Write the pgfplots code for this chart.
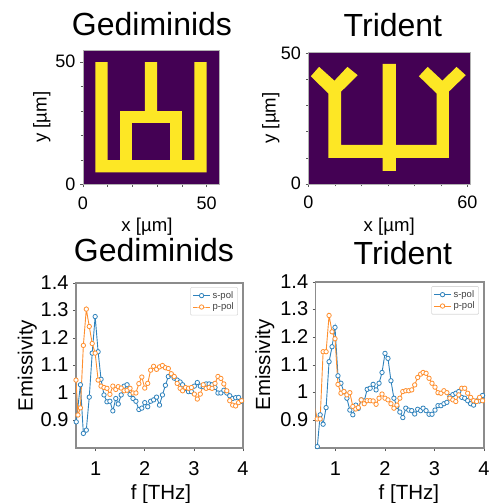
\documentclass[border=0pt]{standalone}
\usepackage{pgfplots}
\usepackage{fontspec}
\setmainfont{Liberation Sans}
\pgfplotsset{compat=1.18}
\definecolor{vp}{HTML}{440154}
\definecolor{vy}{HTML}{FDE725}
\definecolor{sb}{HTML}{2F82BC}
\definecolor{po}{HTML}{FF8F2E}
\pgfplotsset{
  common/.style={
    scale only axis,
    /pgf/number format/assume math mode=true,
    /pgf/number format/fixed,
    clip=true,
    tick align=outside,
    tick style={color=black!65,line width=0.7pt},
    major tick length=3pt,
    minor tick length=2.5pt,
    xtick pos=bottom, ytick pos=left,
    typeset ticklabels with strut=false,
  },
  img/.style={
    common,
    axis background/.style={fill=vp},
    axis line style={color=black!30,line width=0.8pt},
    tick label style={font=\fontsize{18}{18}\selectfont},
    xticklabel style={yshift=-5.5pt},
    yticklabel style={xshift=-1pt,yshift=-2pt},
    label style={font=\fontsize{18.6}{19}\selectfont},
    title style={font=\fontsize{32}{34}\selectfont,anchor=base},
  },
  em/.style={
    common,
    xmin=0.6,xmax=4,ymin=0.8,ymax=1.4,
    xtick={1,2,3,4},
    ytick={0.9,1,1.1,1.2,1.3,1.4},
    yticklabels={0.9,1,1.1,1.2,1.3,1.4},
    axis line style={color=black!45,line width=1.1pt},
    tick label style={font=\fontsize{20}{20}\selectfont},
    xticklabel style={yshift=-7pt},
    yticklabel style={xshift=-1pt,yshift=-2pt},
    label style={font=\fontsize{20.5}{21}\selectfont},
    title style={font=\fontsize{32}{34}\selectfont,anchor=base},
    legend cell align=left,
    legend style={font=\fontsize{9.5}{10}\selectfont,text=black!75,draw=black!15,rounded corners=1pt,
      anchor=north east,inner sep=2pt,row sep=-1pt,line width=0.6pt},
  },
  spol/.style={color=sb,line width=0.9pt,mark=*,mark size=2.2pt,mark options={fill=white,draw=sb,line width=0.8pt}},
  ppol/.style={color=po,line width=0.9pt,mark=*,mark size=2.2pt,mark options={fill=white,draw=po,line width=0.8pt}},
}
\begin{document}
\begin{tikzpicture}[x=1pt,y=1pt]
\useasboundingbox (0,0) rectangle (491,503);
% ---------- top left
\begin{axis}[img,at={(83pt,318.5pt)},anchor=south west,width=136pt,height=134.5pt,
  xmin=0,xmax=55,ymin=0,ymax=55,
  xtick={0,50},ytick={0,50},minor xtick={10,20,30,40},minor ytick={10,20,30,40},
  title={Gediminids},title style={at={(axis description cs:0.5,1)},xshift=1pt,yshift=8.5pt},
  xlabel={x [µm]},xlabel style={at={(axis description cs:0.5,0)},anchor=base,xshift=-4pt,yshift=-47.5pt},
  ylabel={y [µm]},ylabel style={at={(axis description cs:0,0.5)},anchor=base,yshift=36.3pt},
]
\addplot[fill=vy,draw=none] coordinates {(5,5)(50,5)(50,50)(45,50)(45,10)(40,10)(40,30)(30,30)(30,50)(25,50)(25,30)(15,30)(15,10)(10,10)(10,50)(5,50)};
\addplot[fill=vp,draw=none] coordinates {(20,10)(35,10)(35,25)(20,25)};
\end{axis}
% ---------- top right
\begin{axis}[img,at={(308.5pt,319pt)},anchor=south west,width=161.5pt,height=132pt,
  xmin=0,xmax=61,ymin=0,ymax=50.6,
  xtick={0,60},ytick={0,50},minor xtick={10,20,30,40,50},minor ytick={10,20,30,40},
  title={Trident},title style={at={(axis description cs:0.5,1)},xshift=3.7pt,yshift=9pt},
  xlabel={x [µm]},xlabel style={at={(axis description cs:0.5,0)},anchor=base,yshift=-48pt},
  ylabel={y [µm]},ylabel style={at={(axis description cs:0,0.5)},anchor=base,yshift=32.8pt},
]
\addplot[fill=vy,draw=none] coordinates {(28,5)(33,5)(33,10)(53,10)(53,35.4)(59.4,41.7)(55.9,44.9)(50.6,39.6)(45,44.9)(41.7,41.3)(48.4,34.7)(48.4,15)(33,15)(33,46)(28,46)(28,15)(12.3,15)(12.3,35.4)(18.6,41.7)(14.7,44.9)(9.8,39.6)(4,44.9)(0.88,41.3)(7.5,34.7)(7.5,10)(28,10)};
\end{axis}
% ---------- bottom left
\begin{axis}[em,at={(76pt,55pt)},anchor=south west,width=167pt,height=165pt,
  title={Gediminids},title style={at={(axis description cs:0.5,1)},xshift=-5.5pt,yshift=16pt},
  xlabel={f [THz]},xlabel style={at={(axis description cs:0.5,0)},anchor=base,xshift=1.5pt,yshift=-51.8pt},
  ylabel={Emissivity},ylabel style={at={(axis description cs:0,0.5)},anchor=base,yshift=43.3pt},
  legend style={at={(rel axis cs:0.97,0.975)}},
]
\addplot[spol] coordinates {(0.605,0.895)(0.69,1.03)(0.75,0.853)(0.81,0.865)(0.87,0.985)(0.93,1.145)(0.99,1.278)(1.05,1.15)(1.11,1.05)(1.17,0.993)(1.23,0.968)(1.29,0.97)(1.35,0.935)(1.41,0.98)(1.46,0.96)(1.52,0.993)(1.58,1.025)(1.64,1.03)(1.70,0.995)(1.76,0.98)(1.82,0.97)(1.88,0.94)(1.94,0.945)(2.00,0.965)(2.06,0.95)(2.12,0.97)(2.18,0.975)(2.24,0.985)(2.30,0.956)(2.36,0.993)(2.42,1.028)(2.48,1.06)(2.54,1.066)(2.60,1.054)(2.66,1.047)(2.72,1.04)(2.77,1.03)(2.83,1.017)(2.89,1.005)(2.95,1.005)(3.01,1.025)(3.07,1.038)(3.13,1.025)(3.19,1.023)(3.25,1.033)(3.31,1.033)(3.37,1.03)(3.43,1.02)(3.49,1.0)(3.55,1.0)(3.61,1.01)(3.67,1.0)(3.73,0.99)(3.79,0.98)(3.85,0.983)(3.91,0.984)(3.97,0.97)};
\addlegendentry{s-pol}
\addplot[ppol] coordinates {(0.60,1.047)(0.64,0.92)(0.69,0.946)(0.75,1.173)(0.81,1.305)(0.87,1.242)(0.93,1.18)(0.99,1.145)(1.05,1.047)(1.11,1.025)(1.17,1.02)(1.23,1.017)(1.29,0.995)(1.35,1.025)(1.41,1.013)(1.46,1.023)(1.52,1.018)(1.58,1.008)(1.64,1.01)(1.70,1.017)(1.76,1.0)(1.82,1.0)(1.88,1.034)(1.94,1.058)(2.00,1.018)(2.06,1.035)(2.12,1.083)(2.18,1.097)(2.24,1.086)(2.30,1.095)(2.36,1.10)(2.42,1.092)(2.48,1.089)(2.54,1.07)(2.60,1.06)(2.66,1.035)(2.72,1.017)(2.77,1.008)(2.83,1.02)(2.89,1.017)(2.95,1.02)(3.01,0.996)(3.07,0.978)(3.13,0.996)(3.19,1.03)(3.25,1.017)(3.31,1.02)(3.37,1.017)(3.43,1.035)(3.49,1.06)(3.55,1.053)(3.61,1.033)(3.67,1.008)(3.73,0.972)(3.79,0.956)(3.85,0.953)(3.91,0.965)(3.97,0.972)};
\addlegendentry{p-pol}
\end{axis}
% ---------- bottom right
\begin{axis}[em,at={(315.7pt,55pt)},anchor=south west,width=168.3pt,height=166pt,
  title={Trident},title style={at={(axis description cs:0.5,1)},xshift=3pt,yshift=11.5pt},
  xlabel={f [THz]},xlabel style={at={(axis description cs:0.5,0)},anchor=base,xshift=9pt,yshift=-51.8pt},
  ylabel={Emissivity},ylabel style={at={(axis description cs:0,0.5)},anchor=base,yshift=45.7pt},
  legend style={at={(rel axis cs:0.97,0.975)}},
]
\addplot[spol] coordinates {(0.58,0.75)(0.633,0.805)(0.69,0.92)(0.75,0.886)(0.81,0.946)(0.87,1.112)(0.93,1.166)(0.99,1.236)(1.05,1.061)(1.11,1.034)(1.17,1.003)(1.23,0.98)(1.29,0.937)(1.35,0.92)(1.41,0.955)(1.46,0.943)(1.52,0.974)(1.58,0.97)(1.64,1.012)(1.70,1.016)(1.76,1.03)(1.82,1.01)(1.88,1.034)(1.94,1.073)(2.00,1.142)(2.06,1.124)(2.12,1.043)(2.18,0.98)(2.24,0.95)(2.30,0.93)(2.36,0.91)(2.42,0.944)(2.48,0.937)(2.54,0.935)(2.60,0.923)(2.66,0.94)(2.72,0.935)(2.77,0.944)(2.83,0.935)(2.89,0.922)(2.95,0.922)(3.01,0.937)(3.07,0.953)(3.13,0.953)(3.19,0.96)(3.25,0.965)(3.31,0.986)(3.37,0.993)(3.43,0.998)(3.49,1.004)(3.55,0.983)(3.61,0.98)(3.67,0.971)(3.73,0.96)(3.79,0.955)(3.85,0.97)(3.91,0.97)(3.97,0.99)};
\addlegendentry{s-pol}
\addplot[ppol] coordinates {(0.58,0.95)(0.63,0.905)(0.69,0.905)(0.75,1.148)(0.81,1.148)(0.87,1.279)(0.93,1.22)(0.99,1.195)(1.05,1.03)(1.11,0.998)(1.17,1.004)(1.23,0.992)(1.29,1.0)(1.35,0.95)(1.41,0.941)(1.46,0.946)(1.52,0.974)(1.58,0.96)(1.64,0.971)(1.70,0.971)(1.76,0.97)(1.82,0.958)(1.88,0.98)(1.94,0.995)(2.00,0.98)(2.06,0.974)(2.12,0.96)(2.18,0.944)(2.24,0.955)(2.30,0.98)(2.36,1.004)(2.42,1.007)(2.48,1.007)(2.54,1.01)(2.60,1.028)(2.66,1.055)(2.72,1.067)(2.77,1.073)(2.83,1.07)(2.89,1.052)(2.95,1.034)(3.01,1.02)(3.07,1.0)(3.13,0.998)(3.19,1.007)(3.25,1.0)(3.31,0.98)(3.37,0.974)(3.43,0.968)(3.49,0.992)(3.55,1.016)(3.61,1.016)(3.67,0.998)(3.73,0.983)(3.79,0.971)(3.85,0.968)(3.91,0.983)(3.97,0.971)};
\addlegendentry{p-pol}
\end{axis}
\end{tikzpicture}
\end{document}
